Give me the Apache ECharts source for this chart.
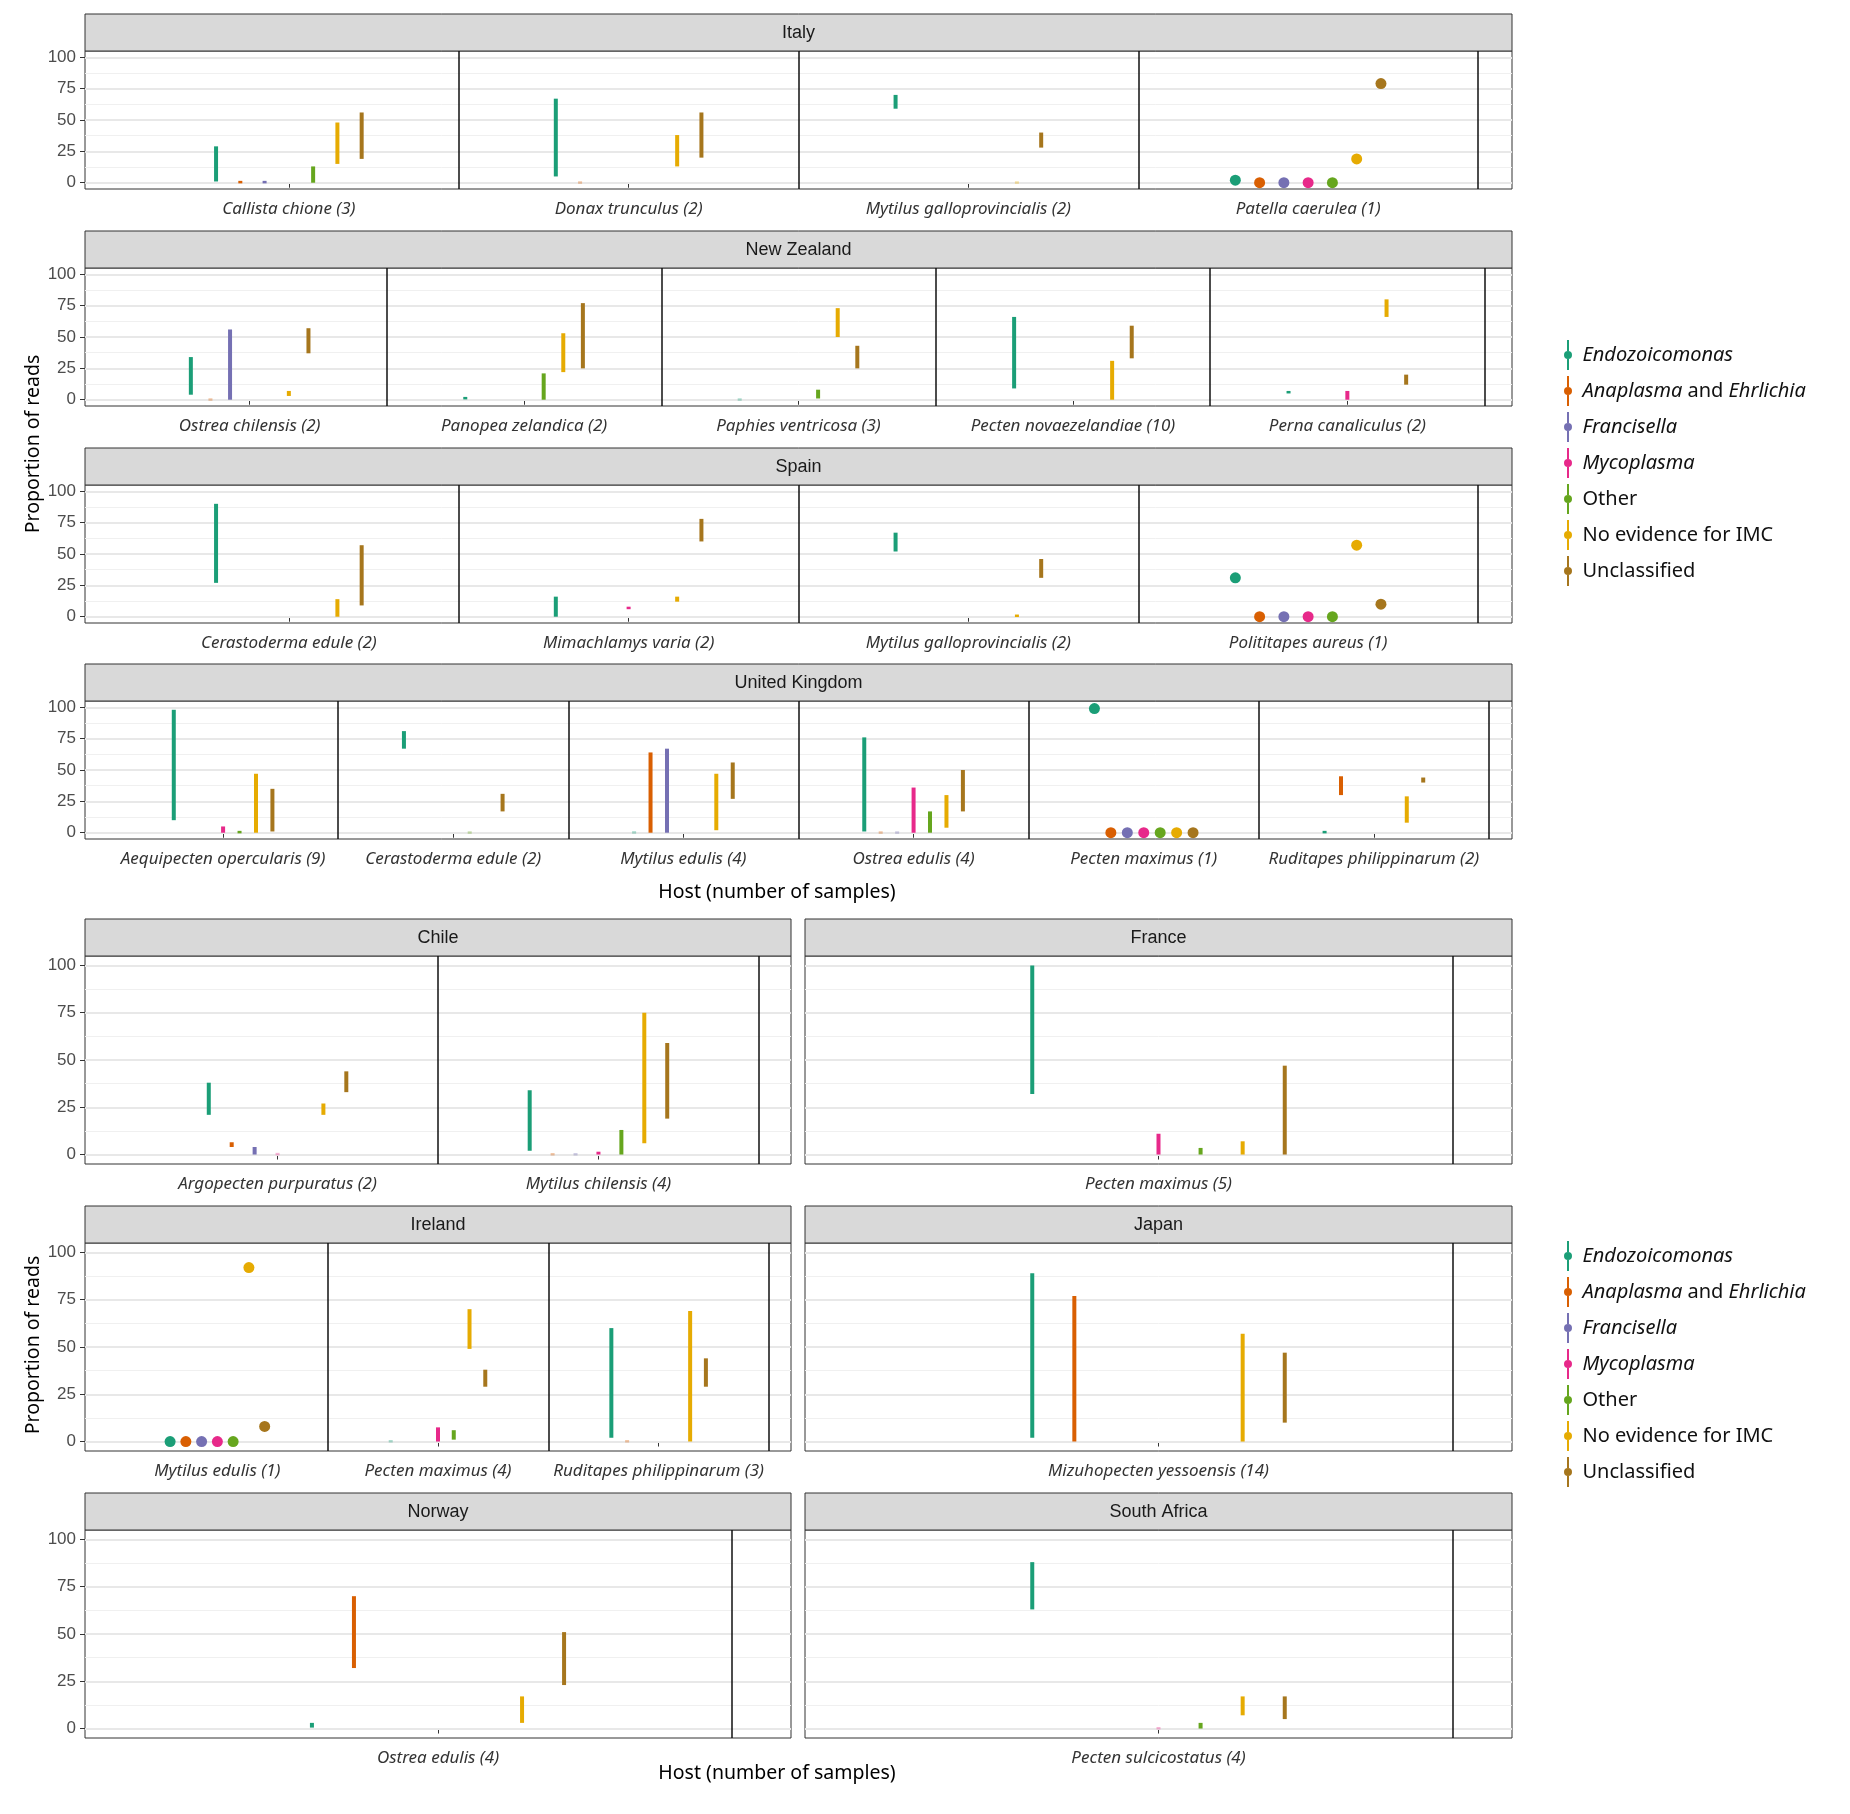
<!DOCTYPE html>
<html>
<head>
<meta charset="utf-8">
<script src="https://cdn.jsdelivr.net/npm/echarts@6/dist/echarts.min.js"></script>
</head>
<body style="margin:0;background:#fff">
<div id="main" style="width:1850px;height:1814px"></div>
<script>
// categories of reads, in dodge order
var categories = ['Endozoicomonas', 'Anaplasma and Ehrlichia', 'Francisella', 'Mycoplasma',
                  'Other', 'No evidence for IMC', 'Unclassified'];
var palette = ['#1B9E77', '#D95F02', '#7570B3', '#E7298A', '#66A61E', '#E6AB02', '#A6761D'];

// per host: [min, max] per category, a plain number when only one sample, null when absent
var italyHosts = ['Callista chione (3)', 'Donax trunculus (2)', 'Mytilus galloprovincialis (2)', 'Patella caerulea (1)'];
var italyRanges = [
    [[1, 29], [0, 1], [0, 1], null, [0, 13], [15, 48], [19, 56]],
    [[5, 67], [0, 0.3], null, null, null, [13, 38], [20, 56]],
    [[59, 70], null, null, null, null, [0, 0.3], [28, 40]],
    [2, 0, 0, 0, 0, 19, 79]
];

var nzHosts = ['Ostrea chilensis (2)', 'Panopea zelandica (2)', 'Paphies ventricosa (3)', 'Pecten novaezelandiae (10)', 'Perna canaliculus (2)'];
var nzRanges = [
    [[4, 34], [0, 0.3], [0, 56], null, null, [3, 7], [37, 57]],
    [[0.5, 2], null, null, null, [0, 21], [22, 53], [25, 77]],
    [[0, 0.3], null, null, null, [1, 8], [50, 73], [25, 43]],
    [[9, 66], null, null, null, null, [0, 31], [33, 59]],
    [[5, 7], null, null, [0, 7], null, [66, 80], [12, 20]]
];

var spainHosts = ['Cerastoderma edule (2)', 'Mimachlamys varia (2)', 'Mytilus galloprovincialis (2)', 'Polititapes aureus (1)'];
var spainRanges = [
    [[27, 90], null, null, null, null, [0, 14], [9, 57]],
    [[0, 16], null, null, [6, 8], null, [12, 16], [60, 78]],
    [[52, 67], null, null, null, null, [0, 1.5], [31, 46]],
    [31, 0, 0, 0, 0, 57, 10]
];

var ukHosts = ['Aequipecten opercularis (9)', 'Cerastoderma edule (2)', 'Mytilus edulis (4)', 'Ostrea edulis (4)', 'Pecten maximus (1)', 'Ruditapes philippinarum (2)'];
var ukRanges = [
    [[10, 98], null, null, [0, 5], [0, 1], [0, 47], [1, 35]],
    [[67, 81], null, null, null, [0, 0.3], null, [17, 31]],
    [[0, 0.5], [0, 64], [0, 67], null, null, [2, 47], [27, 56]],
    [[1, 76], [0, 0.3], [0, 0.3], [0, 36], [0, 17], [4, 30], [17, 50]],
    [99, 0, 0, 0, 0, 0, 0],
    [[0, 1], [30, 45], null, null, null, [8, 29], [40, 44]]
];

var chileHosts = ['Argopecten purpuratus (2)', 'Mytilus chilensis (4)'];
var chileRanges = [
    [[21, 38], [4, 6.5], [0, 4], [0, 0.5], null, [21, 27], [33, 44]],
    [[2, 34], [0, 0.3], [0, 0.3], [0, 1.5], [0, 13], [6, 75], [19, 59]]
];

var franceHosts = ['Pecten maximus (5)'];
var franceRanges = [
    [[32, 100], null, null, [0, 11], [0, 3.5], [0, 7], [0, 47]]
];

var irelandHosts = ['Mytilus edulis (1)', 'Pecten maximus (4)', 'Ruditapes philippinarum (3)'];
var irelandRanges = [
    [0, 0, 0, 0, 0, 92, 8],
    [[0, 0.3], null, null, [0, 7.5], [1, 6], [49, 70], [29, 38]],
    [[2, 60], [0, 0.3], null, null, null, [0, 69], [29, 44]]
];

var japanHosts = ['Mizuhopecten yessoensis (14)'];
var japanRanges = [
    [[2, 89], [0, 77], null, null, null, [0, 57], [10, 47]]
];

var norwayHosts = ['Ostrea edulis (4)'];
var norwayRanges = [
    [[0.5, 3], [32, 70], null, null, null, [3, 17], [23, 51]]
];

var southAfricaHosts = ['Pecten sulcicostatus (4)'];
var southAfricaRanges = [
    [[63, 88], null, null, [0, 0.3], [0, 3], [7, 17], [5, 17]]
];

var yTicks = [0, 25, 50, 75, 100];
var yMinor = [12.5, 37.5, 62.5, 87.5];

// facet layout (pixels)
var facets = [
    {title: 'Italy', hosts: italyHosts, ranges: italyRanges, x: 85, y: 14, w: 1427, h: 138, yLab: true},
    {title: 'New Zealand', hosts: nzHosts, ranges: nzRanges, x: 85, y: 231, w: 1427, h: 138, yLab: true},
    {title: 'Spain', hosts: spainHosts, ranges: spainRanges, x: 85, y: 448, w: 1427, h: 138, yLab: true},
    {title: 'United Kingdom', hosts: ukHosts, ranges: ukRanges, x: 85, y: 664, w: 1427, h: 138, yLab: true},
    {title: 'Chile', hosts: chileHosts, ranges: chileRanges, x: 85, y: 919, w: 706, h: 208, yLab: true},
    {title: 'France', hosts: franceHosts, ranges: franceRanges, x: 805, y: 919, w: 707, h: 208, yLab: false},
    {title: 'Ireland', hosts: irelandHosts, ranges: irelandRanges, x: 85, y: 1206, w: 706, h: 208, yLab: true},
    {title: 'Japan', hosts: japanHosts, ranges: japanRanges, x: 805, y: 1206, w: 707, h: 208, yLab: false},
    {title: 'Norway', hosts: norwayHosts, ranges: norwayRanges, x: 85, y: 1493, w: 706, h: 208, yLab: true},
    {title: 'South Africa', hosts: southAfricaHosts, ranges: southAfricaRanges, x: 805, y: 1493, w: 707, h: 208, yLab: false}
];
var STRIP = 37;
var DODGE = 0.5 / 7;

function renderRange(params, api) {
    var x = api.value(0), lo = api.value(1), hi = api.value(2);
    var top = api.coord([x, hi]), bot = api.coord([x, lo]);
    var color = api.visual('color');
    if (lo === hi) {
        return {type: 'circle', shape: {cx: top[0], cy: top[1], r: 5.5}, style: {fill: color}};
    }
    var h = bot[1] - top[1], y0 = top[1], op = 1;
    if (h < 1) op = 0.35;
    if (h < 2.5) { y0 = (top[1] + bot[1]) / 2 - 1.25; h = 2.5; }
    return {type: 'rect', shape: {x: top[0] - 2, y: y0, width: 4, height: h}, style: {fill: color, opacity: op}};
}

var grids = [], xAxes = [], yAxes = [], series = [], graphics = [];

facets.forEach(function (f, fi) {
    var n = f.hosts.length;
    var idx = [];
    for (var i = 1; i <= n; i++) idx.push(i);

    grids.push({left: f.x, top: f.y + STRIP, width: f.w, height: f.h, show: true,
        borderColor: '#333', borderWidth: 1, backgroundColor: '#fff'});
    xAxes.push({
        type: 'value', gridIndex: fi, min: 0.4, max: n + 0.6,
        axisLine: {show: false},
        splitLine: {show: false},
        axisTick: {customValues: idx, length: 5, lineStyle: {color: '#333'}},
        axisLabel: {customValues: idx, margin: 12, fontFamily: 'Noto Sans', fontStyle: 'italic', fontSize: 17, color: '#333',
            formatter: function (v) { return f.hosts[Math.round(v) - 1]; }}
    });
    yAxes.push({
        type: 'value', gridIndex: fi, min: -5, max: 105,
        axisLine: {show: false},
        splitLine: {show: false},
        axisTick: {show: f.yLab, customValues: yTicks, length: 5, lineStyle: {color: '#333'}},
        axisLabel: {show: f.yLab, customValues: yTicks, margin: 9, fontFamily: 'Liberation Sans', fontSize: 17, color: '#4d4d4d'}
    });

    // panel grid lines and host separators
    var lines = [];
    yMinor.forEach(function (v) { lines.push({yAxis: v, lineStyle: {color: '#f0f0f0', width: 1, type: 'solid'}}); });
    yTicks.forEach(function (v) { lines.push({yAxis: v, lineStyle: {color: '#e8e8e8', width: 2, type: 'solid'}}); });
    idx.forEach(function (i) { lines.push({xAxis: i + 0.5, lineStyle: {color: '#111', width: 1.5, type: 'solid'}}); });
    series.push({
        type: 'line', xAxisIndex: fi, yAxisIndex: fi, data: [], silent: true, z: 1,
        markLine: {silent: true, z: 1, symbol: 'none', label: {show: false}, animation: false, data: lines}
    });

    categories.forEach(function (cat, k) {
        var data = [];
        f.ranges.forEach(function (row, h) {
            var r = row[k];
            if (r === null || r === undefined) return;
            if (typeof r === 'number') r = [r, r];
            data.push([h + 1 + (k - 3) * DODGE, r[0], r[1]]);
        });
        series.push({
            type: 'custom', name: cat, xAxisIndex: fi, yAxisIndex: fi, z: 10,
            itemStyle: {color: palette[k]},
            encode: {x: 0, y: [1, 2]},
            renderItem: renderRange,
            data: data
        });
    });

    graphics.push({type: 'rect', shape: {x: f.x, y: f.y, width: f.w, height: STRIP},
        style: {fill: '#d9d9d9', stroke: '#333', lineWidth: 1}});
    graphics.push({type: 'text', style: {text: f.title, x: f.x + f.w / 2, y: f.y + STRIP / 2 + 1,
        textAlign: 'center', textVerticalAlign: 'middle', font: '18px "Liberation Sans"', fill: '#1a1a1a'}});
});

[444, 1345].forEach(function (y) {
    graphics.push({type: 'text', x: 33, y: y, rotation: Math.PI / 2,
        style: {text: 'Proportion of reads', x: 0, y: 0, textAlign: 'center', textVerticalAlign: 'middle',
            font: '19.5px "Noto Sans"', fill: '#000'}});
});
[892, 1773].forEach(function (y) {
    graphics.push({type: 'text', style: {text: 'Host (number of samples)', x: 777, y: y,
        textAlign: 'center', textVerticalAlign: 'middle', font: '19.5px "Noto Sans"', fill: '#000'}});
});

var italicCats = ['Endozoicomonas', 'Francisella', 'Mycoplasma'];
function legendLabel(name) {
    if (name === 'Anaplasma and Ehrlichia') return '{i|Anaplasma} and {i|Ehrlichia}';
    if (italicCats.indexOf(name) >= 0) return '{i|' + name + '}';
    return name;
}
var legends = [335, 1236].map(function (top) {
    return {
        orient: 'vertical', left: 1559, top: top, itemWidth: 9, itemHeight: 30, itemGap: 6,
        icon: 'path://M3.5,0H5.5V11H3.5Z M3.5,19H5.5V30H3.5Z M0.5,15A4,4 0 1 0 8.5,15A4,4 0 1 0 0.5,15Z',
        selectedMode: false, data: categories, formatter: legendLabel,
        textStyle: {fontFamily: 'Noto Sans', fontSize: 20, color: '#111', padding: [0, 0, 0, 5],
            rich: {i: {fontFamily: 'Noto Sans', fontStyle: 'italic', fontSize: 20, color: '#111'}}}
    };
});

var chart = echarts.init(document.getElementById('main'));
chart.setOption({
    animation: false,
    backgroundColor: '#fff',
    grid: grids,
    xAxis: xAxes,
    yAxis: yAxes,
    legend: legends,
    graphic: graphics,
    series: series
});
</script>
</body>
</html>
